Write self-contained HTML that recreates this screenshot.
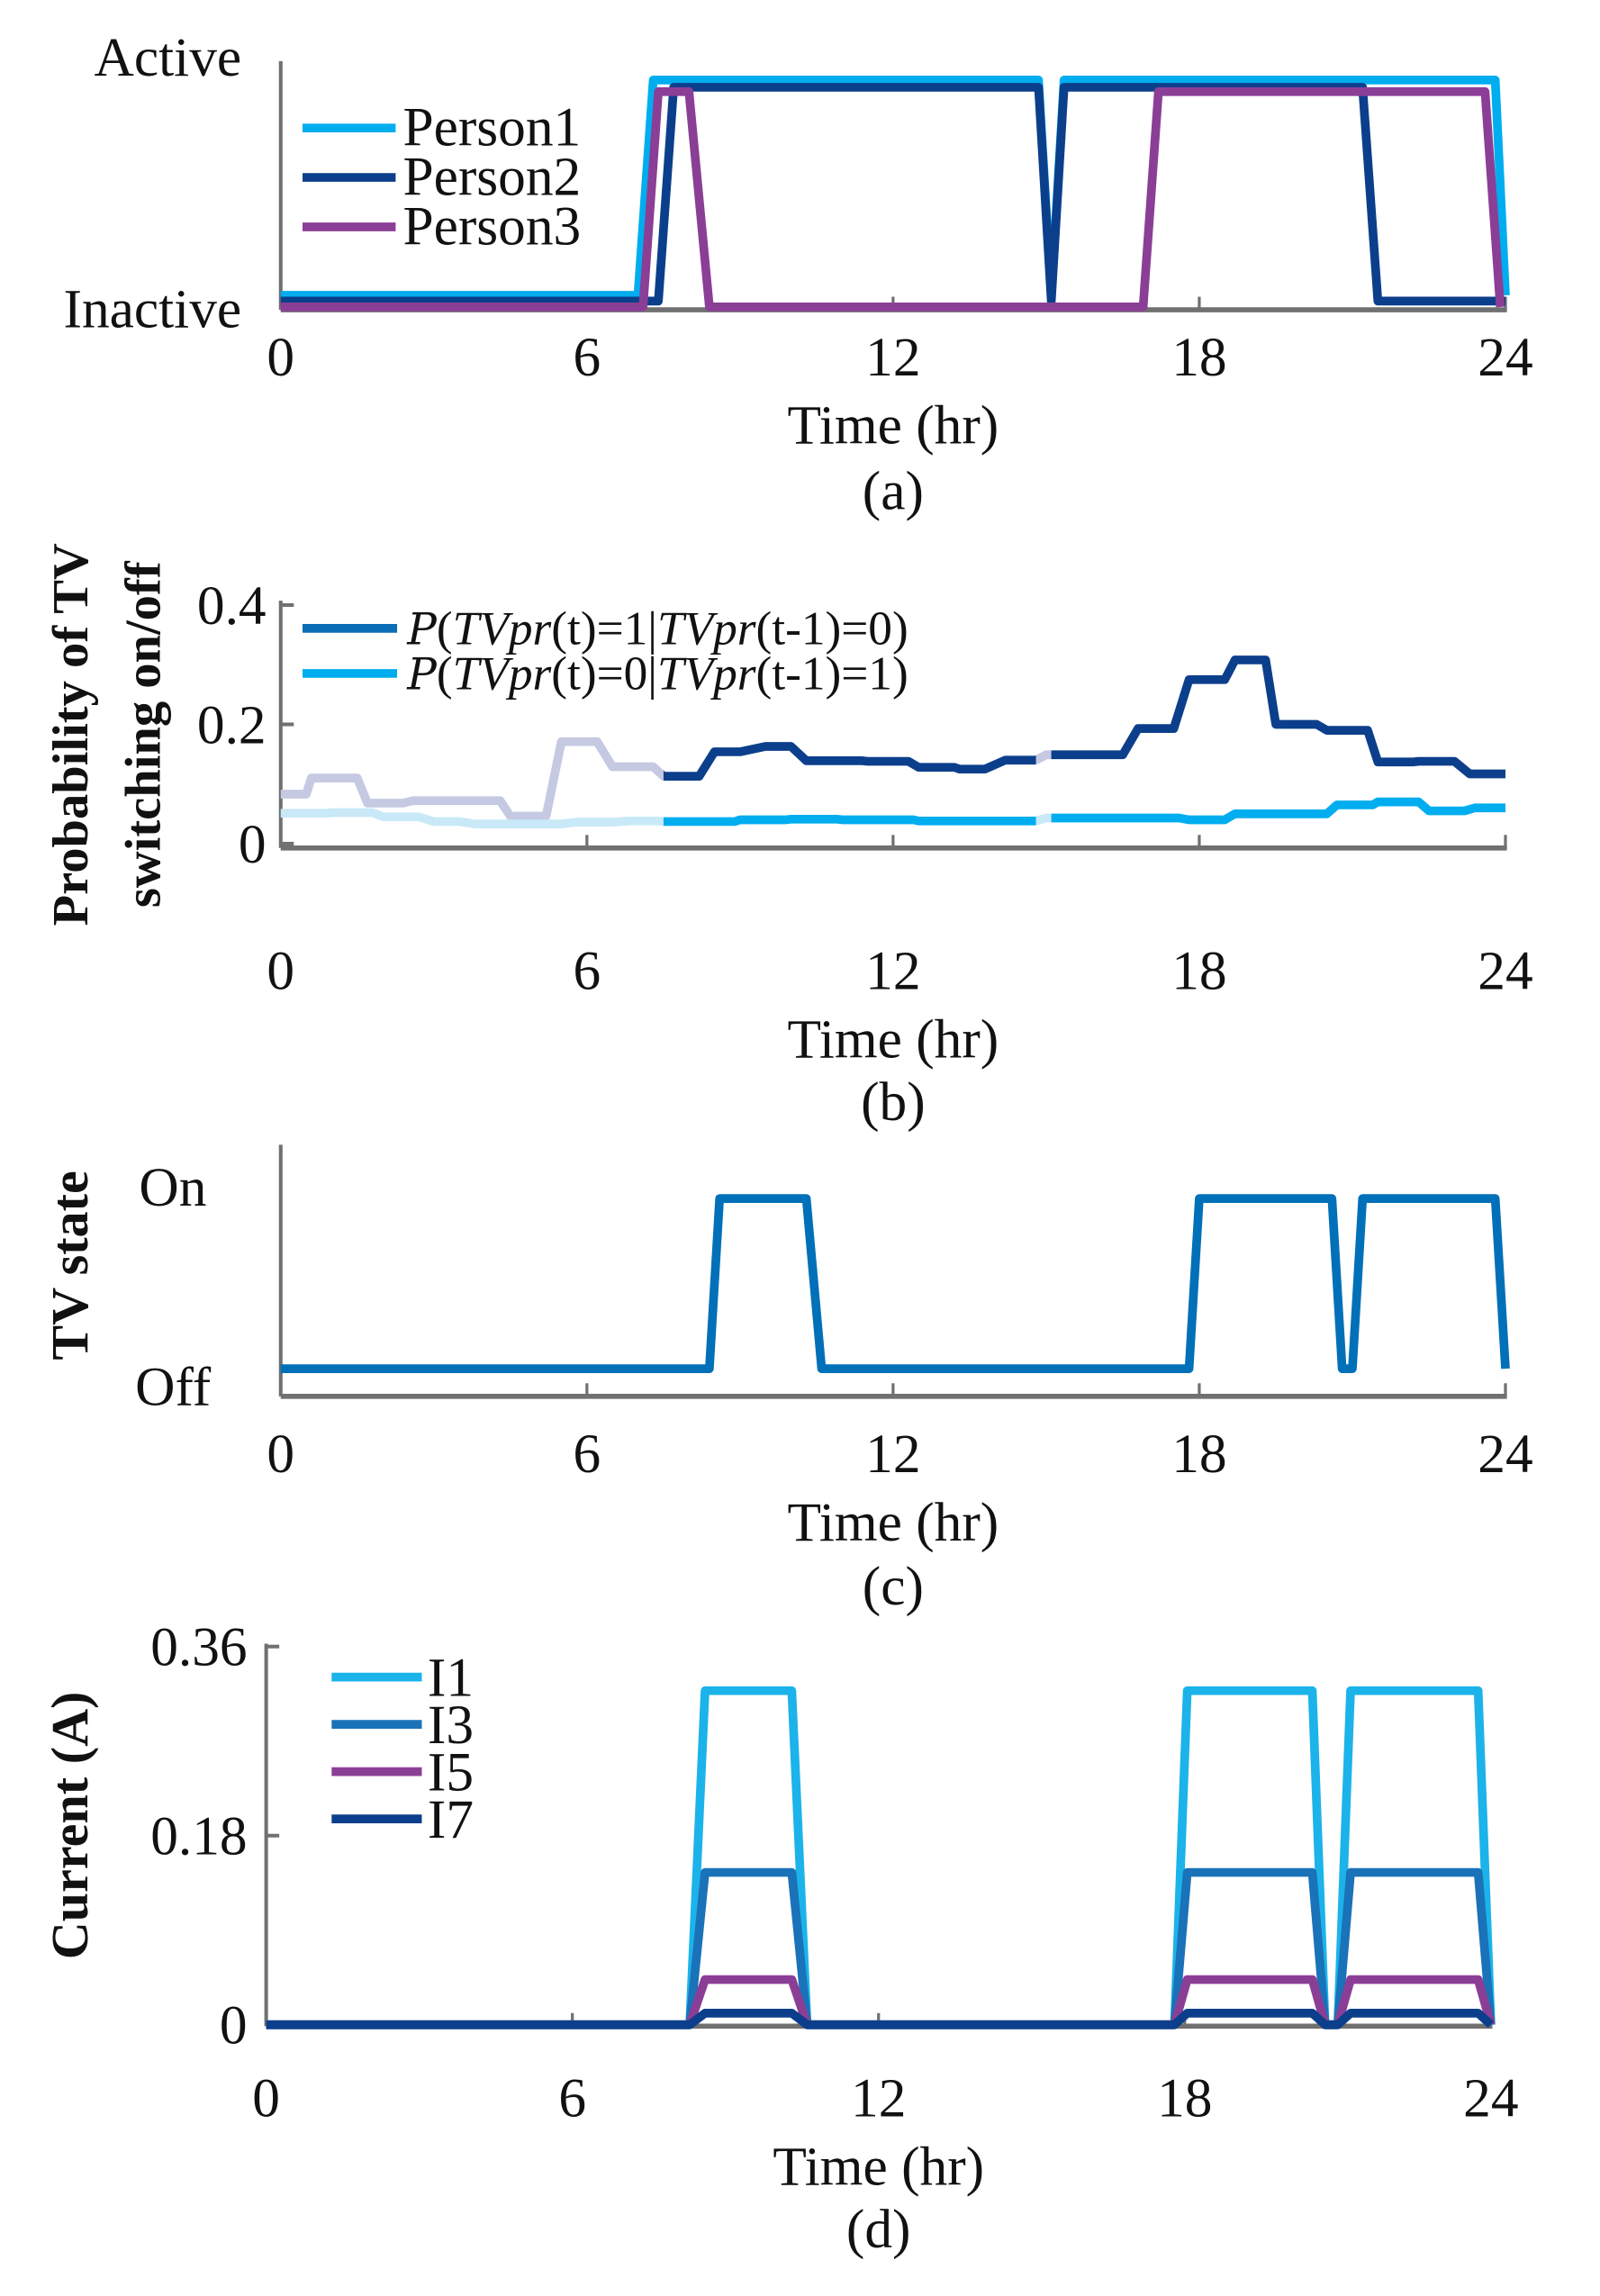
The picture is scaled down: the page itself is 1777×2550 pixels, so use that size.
<!DOCTYPE html>
<html><head><meta charset="utf-8"><style>
html,body{margin:0;padding:0;background:#fff}
svg{display:block}
text{font-family:"Liberation Serif","DejaVu Serif",serif;fill:#111}
</style></head><body>
<svg id="fig" width="1777" height="2550" viewBox="0 0 1100 1578.5" preserveAspectRatio="none" xmlns="http://www.w3.org/2000/svg"></svg>
<script>
// ---- data ----
const hourTicks = [0, 6, 12, 18, 24];
// panel (a): occupancy, [time, state] 1=active 0=inactive
const p1Times = [0, 7.0, 7.3, 14.85, 15.1, 15.35, 23.8, 24];
const p1States = [0, 0, 1, 1, 0, 1, 1, 0];
const p2Times = [0, 7.4, 7.7, 14.85, 15.1, 15.35, 21.2, 21.5, 24];
const p2States = [0, 0, 1, 1, 0, 1, 1, 0, 0];
const p3Times = [0, 7.1, 7.4, 8.0, 8.4, 16.9, 17.2, 23.6, 23.9];
const p3States = [0, 0, 1, 1, 0, 0, 1, 1, 0];
// panel (b): step plateaus
const onStarts = [0, 0.6, 1.7, 2.6, 4.5, 5.5, 6.5, 7.5, 8.5, 9.5, 10.3, 11.5, 12.5, 13.3, 14.2, 15.0, 16.8, 17.8, 18.7, 19.5, 20.5, 21.5, 22.3, 23.3];
const onEnds   = [0.5, 1.5, 2.4, 4.3, 5.2, 6.2, 7.3, 8.2, 9.0, 10.0, 11.4, 12.3, 13.2, 13.8, 14.8, 16.5, 17.5, 18.5, 19.3, 20.3, 21.3, 22.2, 23.0, 24];
const onVals   = [0.083, 0.11, 0.068, 0.072, 0.046, 0.171, 0.129, 0.113, 0.154, 0.163, 0.139, 0.138, 0.128, 0.125, 0.14, 0.149, 0.193, 0.275, 0.308, 0.2, 0.19, 0.137, 0.138, 0.117];
const offStarts = [0, 1.0, 2.0, 3.0, 3.8, 5.8, 6.8, 7.5, 9.0, 10.0, 11.0, 12.5, 15.0, 17.8, 18.7, 20.7, 21.5, 22.5, 23.4];
const offEnds   = [0.9, 1.8, 2.7, 3.5, 5.5, 6.5, 7.4, 8.9, 9.9, 10.9, 12.4, 14.8, 17.6, 18.5, 20.5, 21.4, 22.3, 23.2, 24];
const offVals   = [0.051, 0.052, 0.045, 0.037, 0.033, 0.036, 0.038, 0.037, 0.04, 0.041, 0.04, 0.038, 0.043, 0.04, 0.05, 0.065, 0.07, 0.055, 0.06];
// panel (c): TV state
const tvTimes = [0, 8.4, 8.6, 10.3, 10.6, 17.8, 18.0, 20.6, 20.8, 21.0, 21.2, 23.8, 24];
const tvStates = [0, 0, 1, 1, 0, 0, 1, 1, 0, 0, 1, 1, 0];
// panel (d): harmonic currents
const curTimes = [0, 8.3, 8.6, 10.3, 10.6, 17.8, 18.05, 20.5, 20.75, 21.0, 21.25, 23.75, 24];
const curOnOff = [0, 0, 1, 1, 0, 0, 1, 1, 0, 0, 1, 1, 0];
const curNames = ["I1", "I3", "I5", "I7"];
const curAmps = [0.318, 0.145, 0.043, 0.011];
const yTicksB = [0, 0.2, 0.4];
const yTicksD = [0, 0.18, 0.36];

const NS = "http://www.w3.org/2000/svg";
const svg = document.getElementById("fig");
const LW = 6;
function el(tag, attrs, parent, txt) {
  const e = document.createElementNS(NS, tag);
  for (const k in attrs) e.setAttribute(k, attrs[k]);
  if (txt !== undefined) e.textContent = txt;
  (parent || svg).appendChild(e);
  return e;
}
function poly(pts, color, w, name, parent) {
  const p = el("polyline", {points: pts.map(q => q[0].toFixed(2) + "," + q[1].toFixed(2)).join(" "), fill: "none", stroke: color, "stroke-width": w, "stroke-linejoin": "round"}, parent);
  
  
  return p;
}
const AX = "#707070";
function axes(x0, x1, yTop, yBot, name, xLabY, capY, cap) {
  const g = el("g", {});
  
  
  el("line", {x1: x0, y1: yTop, x2: x0, y2: yBot, stroke: AX, "stroke-width": 2.5}, g);
  el("line", {x1: x0, y1: yBot, x2: x1 + 1, y2: yBot, stroke: AX, "stroke-width": 3.5}, g);
  hourTicks.forEach(t => {
    const x = x0 + (x1 - x0) * t / 24;
    if (t > 0) el("line", {x1: x, y1: yBot, x2: x, y2: yBot - 9, stroke: AX, "stroke-width": 2}, g);
    const tx = el("text", {x: x, y: xLabY, "text-anchor": "middle", "font-size": 38}, g, String(t));
    
    
  });
  const xt = el("text", {x: (x0 + x1) / 2, y: xLabY + 47, "text-anchor": "middle", "font-size": 38}, g, "Time (hr)");
  
  
  const c = el("text", {x: (x0 + x1) / 2, y: capY, "text-anchor": "middle", "font-size": 38}, g, cap);
  
  
  return g;
}

// ---------- panel a ----------
(function () {
  const x0 = 193, x1 = 1035;
  const X = t => x0 + (x1 - x0) * t / 24;
  axes(x0, x1, 42, 213, "panel-a-axes", 258, 350, "(a)");
  const la = el("text", {x: 166, y: 52, "text-anchor": "end", "font-size": 38}, svg, "Active");
   
  const li = el("text", {x: 166, y: 225, "text-anchor": "end", "font-size": 38}, svg, "Inactive");
   
  const series = [
    [p1Times, p1States, "#00adef", 55, 203, "person1-line"],
    [p2Times, p2States, "#0c3f8b", 60, 207, "person2-line"],
    [p3Times, p3States, "#8b3e96", 63, 211, "person3-line"]];
  series.forEach(s => {
    poly(s[0].map((t, i) => [X(t), s[1][i] ? s[3] : s[4]]), s[2], LW, s[5]);
  });
  const names = ["Person1", "Person2", "Person3"];
  names.forEach((n, i) => {
    const y = 88 + i * 34;
    const g = el("g", {});
    
    
    el("line", {x1: 208, y1: y, x2: 272, y2: y, stroke: series[i][2], "stroke-width": LW}, g);
    el("text", {x: 277, y: y + 12, "font-size": 38}, g, n);
  });
})();

// ---------- panel b ----------
(function () {
  const x0 = 193, x1 = 1035, y0 = 580, yS = 410;
  const X = t => x0 + (x1 - x0) * t / 24;
  const Y = v => y0 - v * yS;
  axes(x0, x1, 413, 583, "panel-b-axes", 680, 770, "(b)");
  yTicksB.forEach(v => {
    el("line", {x1: x0, y1: Y(v), x2: x0 + 9, y2: Y(v), stroke: AX, "stroke-width": 2.5});
    const t = el("text", {x: 183, y: Y(v) + 13, "text-anchor": "end", "font-size": 38}, svg, String(v));
     
  });
  const yt = el("text", {transform: "translate(60,505) rotate(-90)", "text-anchor": "middle", "font-size": 35, "font-weight": "bold", "font-family": "DejaVu Serif, serif"}, svg);
   
  el("tspan", {x: 0, dy: 0}, yt, "Probability of TV");
  el("tspan", {x: 0, dy: 50}, yt, "switching on/off");
  function stepPts(st, en, va) {
    const pts = [];
    st.forEach((s, i) => { pts.push([X(s), Y(va[i])]); pts.push([X(en[i]), Y(va[i])]); });
    return pts;
  }
  const clipA = el("clipPath", {id: "fadeClip"});
  el("rect", {x: 0, y: 0, width: X(7.5), height: 1578}, clipA);
  el("rect", {x: X(14.8), y: 0, width: X(15.1) - X(14.8), height: 1578}, clipA);
  const clipB = el("clipPath", {id: "solidClip"});
  el("rect", {x: X(7.5), y: 0, width: X(14.8) - X(7.5), height: 1578}, clipB);
  el("rect", {x: X(15.1), y: 0, width: 800, height: 1578}, clipB);
  const on = stepPts(onStarts, onEnds, onVals), off = stepPts(offStarts, offEnds, offVals);
  poly(on, "#c5c9e2", LW, "p-on-faded").setAttribute("clip-path", "url(#fadeClip)");
  poly(off, "#c9e9f8", LW, "p-off-faded").setAttribute("clip-path", "url(#fadeClip)");
  poly(on, "#0c3f8b", LW, "p-switch-on-line").setAttribute("clip-path", "url(#solidClip)");
  poly(off, "#00adef", LW, "p-switch-off-line").setAttribute("clip-path", "url(#solidClip)");
  const leg = [["#0b6db5", "=1|", "=0)"], ["#00adef", "=0|", "=1)"]];
  leg.forEach((l, i) => {
    const y = 432 + i * 31;
    const g = el("g", {});
    
    
    el("line", {x1: 208, y1: y, x2: 273, y2: y, stroke: l[0], "stroke-width": LW}, g);
    const t = el("text", {x: 280, y: y + 11, "font-size": 33}, g);
    el("tspan", {"font-style": "italic", "font-family": "DejaVu Serif, serif", "font-size": 30}, t, "P");
    el("tspan", {}, t, "(");
    el("tspan", {"font-style": "italic"}, t, "TVpr");
    el("tspan", {}, t, "(t)" + l[1]);
    el("tspan", {"font-style": "italic"}, t, "TVpr");
    el("tspan", {}, t, "(t-1)" + l[2]);
  });
})();

// ---------- panel c ----------
(function () {
  const x0 = 193, x1 = 1035;
  const X = t => x0 + (x1 - x0) * t / 24;
  axes(x0, x1, 787, 960, "panel-c-axes", 1012, 1103, "(c)");
  const a = el("text", {x: 142, y: 829, "text-anchor": "end", "font-size": 38}, svg, "On");
   
  const b = el("text", {x: 145, y: 966, "text-anchor": "end", "font-size": 38}, svg, "Off");
   
  const yt = el("text", {transform: "translate(60,870) rotate(-90)", "text-anchor": "middle", "font-size": 36, "font-weight": "bold", "font-family": "DejaVu Serif, serif"}, svg, "TV state");
   
  poly(tvTimes.map((t, i) => [X(t), tvStates[i] ? 824 : 941]), "#0070b8", LW, "tv-state-line");
})();

// ---------- panel d ----------
(function () {
  const x0 = 183, x1 = 1025, y0 = 1392, yS = 130 / 0.18;
  const X = t => x0 + (x1 - x0) * t / 24;
  const Y = v => y0 - v * yS;
  axes(x0, x1, 1130, 1393, "panel-d-axes", 1455, 1545, "(d)");
  yTicksD.forEach(v => {
    el("line", {x1: x0, y1: Y(v), x2: x0 + 9, y2: Y(v), stroke: AX, "stroke-width": 2.5});
    const t = el("text", {x: 170, y: Y(v) + 13, "text-anchor": "end", "font-size": 38}, svg, String(v));
     
  });
  const yt = el("text", {transform: "translate(60,1255) rotate(-90)", "text-anchor": "middle", "font-size": 36, "font-weight": "bold", "font-family": "DejaVu Serif, serif"}, svg, "Current (A)");
   
  const cols = ["#1bb3ea", "#1a72b8", "#8b3e96", "#0c3f8b"];
  curAmps.forEach((amp, k) => {
    poly(curTimes.map((t, i) => [X(t), Y(curOnOff[i] * amp)]), cols[k], LW, "current-" + curNames[k].toLowerCase() + "-line");
  });
  curNames.forEach((n, i) => {
    const y = 1153 + i * 32.5;
    const g = el("g", {});
    
    
    el("line", {x1: 228, y1: y, x2: 290, y2: y, stroke: cols[i], "stroke-width": LW}, g);
    el("text", {x: 294, y: y + 13, "font-size": 38}, g, n);
  });
})();
</script>
</body></html>
